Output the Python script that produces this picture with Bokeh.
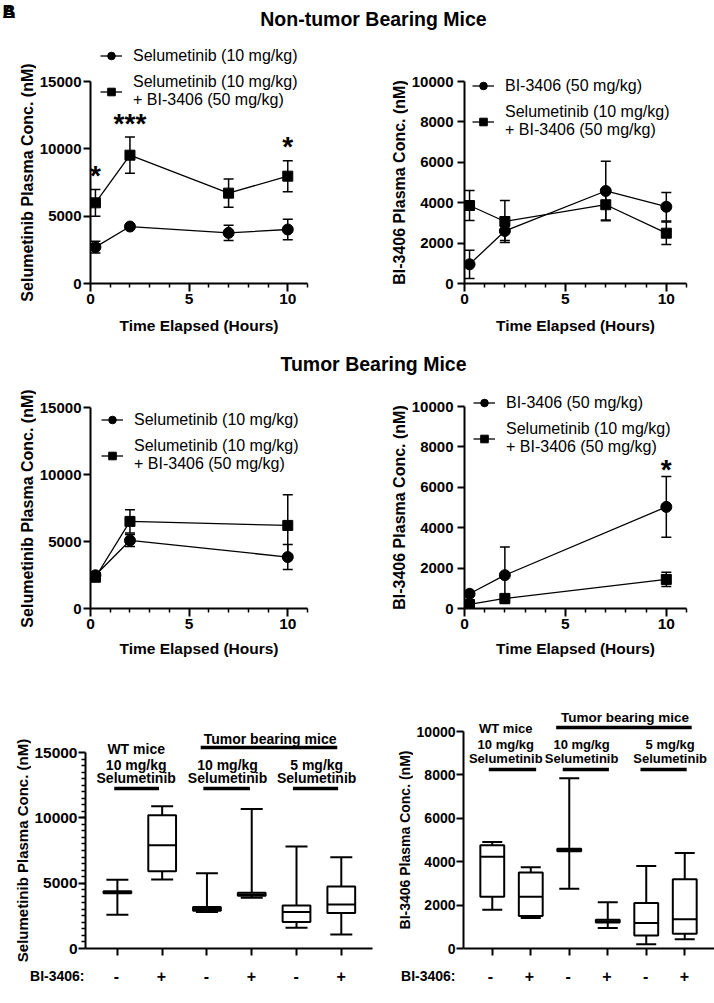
import numpy as np
from bokeh.plotting import figure
from bokeh.layouts import column, row
from bokeh.models import (Range1d, FixedTicker, Legend, LegendItem, Label,
                          Whisker, TeeHead, ColumnDataSource)
from bokeh.embed import file_html
from bokeh.resources import INLINE

FONT = "Liberation Sans"

# ---------------- data ----------------
# Non-tumor bearing mice (mean, sd), nM
nt_hours = [0.25, 2, 7, 10]
nt_sel_mean = [2700, 4230, 3760, 4010]
nt_sel_sd = [430, 150, 570, 770]
nt_combo_sel_mean = [5990, 9530, 6710, 7970]
nt_combo_sel_sd = [990, 1340, 1050, 1150]
nt_sel_stars = ["*", "***", "", "*"]

nt_bi_mean = [950, 2600, 4580, 3800]
nt_bi_sd = [700, 470, 1470, 700]
nt_combo_bi_mean = [3860, 3070, 3900, 2490]
nt_combo_bi_sd = [740, 1040, 760, 560]

# Tumor bearing mice
tb_hours = [0.25, 2, 10]
tb_sel_mean = [2480, 5080, 3840]
tb_sel_sd = [150, 450, 930]
tb_combo_sel_mean = [2330, 6500, 6200]
tb_combo_sel_sd = [150, 870, 2280]

tb_bi_mean = [730, 1650, 5030]
tb_bi_sd = [100, 1400, 1500]
tb_combo_bi_mean = [200, 500, 1440]
tb_combo_bi_sd = [60, 120, 350]
tb_bi_stars = ["", "", "*"]

# Box plots (min, q1, median, q3, max), nM
box_pos = [1, 2, 3, 4, 5, 6]
box_sign = ["-", "+", "-", "+", "-", "+"]
sel_min = [2590, 5290, 2800, 3890, 1580, 1070]
sel_q1 = [4220, 5920, 2880, 4040, 2030, 2720]
sel_med = [4300, 7910, 3030, 4140, 2800, 3360]
sel_q3 = [4390, 10190, 3170, 4270, 3300, 4750]
sel_max = [5260, 10880, 5750, 10680, 7800, 6990]

bi_min = [1780, 1400, 2750, 950, 200, 430]
bi_q1 = [2380, 1500, 4480, 1200, 600, 680]
bi_med = [4230, 2380, 4540, 1260, 1180, 1350]
bi_q3 = [4760, 3500, 4600, 1320, 2100, 3190]
bi_max = [4910, 3740, 7850, 2130, 3800, 4400]

group_titles = [["WT mice", "10 mg/kg", "Selumetinib"],
                ["10 mg/kg", "Selumetinib"],
                ["5 mg/kg", "Selumetinib"]]
tumor_title = "Tumor bearing mice"
treat_label = "BI-3406:"

LEG_SEL = "Selumetinib (10 mg/kg)"
LEG_BI = "BI-3406 (50 mg/kg)"
LEG_COMBO = "Selumetinib (10 mg/kg)\n+ BI-3406 (50 mg/kg)"
YLAB_SEL = "Selumetinib Plasma Conc. (nM)"
YLAB_BI = "BI-3406 Plasma Conc. (nM)"
XLAB = "Time Elapsed (Hours)"


# ---------------- helpers ----------------
def make_fig(w, h, xr, yr, bl, br, bt, bb):
    p = figure(width=w, height=h, x_range=xr, y_range=yr,
               min_border_left=bl, min_border_right=br, min_border_top=bt,
               min_border_bottom=bb, toolbar_location=None,
               output_backend="svg", outline_line_color=None)
    p.grid.visible = False
    return p


def blank_fig(w, h):
    p = figure(width=w, height=h, x_range=Range1d(0, w), y_range=Range1d(0, h),
               x_axis_type=None, y_axis_type=None, min_border=0,
               outline_line_color=None, toolbar_location=None,
               output_backend="svg")
    p.grid.visible = False
    return p


def text(p, x, y, t, size, bold=True, align="center"):
    p.add_layout(Label(x=x, y=y, text=t, text_align=align,
                       text_baseline="middle", text_font=FONT,
                       text_font_style="bold" if bold else "normal",
                       text_font_size=size, text_color="black"))


def style_axis(ax, ticks, minor, label, tick_size, label_size,
               tick_out, label_standoff, axis_standoff, bounds=None,
               minor_out=4):
    ax.ticker = FixedTicker(ticks=ticks, minor_ticks=minor)
    if bounds is not None:
        ax.bounds = bounds
    ax.axis_line_width = 2
    ax.axis_line_color = "black"
    ax.major_tick_line_width = 2
    ax.major_tick_line_color = "black"
    ax.major_tick_out = tick_out
    ax.major_tick_in = 0
    ax.minor_tick_line_width = 1.5
    ax.minor_tick_line_color = "black"
    ax.minor_tick_out = minor_out if minor else 0
    ax.minor_tick_in = 0
    ax.major_label_text_font = FONT
    ax.major_label_text_font_style = "bold"
    ax.major_label_text_font_size = tick_size
    ax.major_label_text_color = "black"
    ax.major_label_standoff = label_standoff
    ax.axis_label = label
    ax.axis_label_text_font = FONT
    ax.axis_label_text_font_style = "bold"
    ax.axis_label_text_font_size = label_size
    ax.axis_label_text_color = "black"
    ax.axis_label_standoff = axis_standoff


def title_axis(ax, label, size, standoff, orientation=None):
    """An axis that only shows its title (no line, no ticks)."""
    ax.ticker = FixedTicker(ticks=[], minor_ticks=[])
    ax.axis_line_color = None
    ax.major_tick_line_color = None
    ax.minor_tick_line_color = None
    ax.major_tick_out = 0
    ax.minor_tick_out = 0
    ax.major_label_standoff = 0
    ax.axis_label = label
    ax.axis_label_text_font = FONT
    ax.axis_label_text_font_style = "bold"
    ax.axis_label_text_font_size = size
    ax.axis_label_text_color = "black"
    ax.axis_label_standoff = standoff
    if orientation:
        ax.axis_label_orientation = orientation


def series(p, x, mean, sd, marker, size):
    m = np.array(mean, dtype=float)
    s = np.array(sd, dtype=float)
    src = ColumnDataSource(dict(x=x, y=m, lo=m - s, hi=m + s))
    p.add_layout(Whisker(base="x", upper="hi", lower="lo", source=src,
                         line_color="black", line_width=1.5,
                         upper_head=TeeHead(size=10, line_width=1.5),
                         lower_head=TeeHead(size=10, line_width=1.5)))
    ln = p.line("x", "y", source=src, line_color="black", line_width=1.3)
    sc = p.scatter("x", "y", source=src, marker=marker, size=size,
                   fill_color="black", line_color="black")
    return [ln, sc]


def legend(p, items, loc):
    lg = Legend(items=[LegendItem(label=t, renderers=r) for t, r in items],
                location=loc, orientation="vertical",
                border_line_color=None, background_fill_alpha=0,
                padding=0, margin=0, spacing=8,
                glyph_width=22, glyph_height=19, label_height=19,
                label_standoff=11, label_text_font=FONT,
                label_text_font_size="16px", label_text_color="black",
                label_text_line_height=1.2)
    p.add_layout(lg, "center")


def stars(p, x, mean, sd, marks, yoff):
    for xi, m, s, t in zip(x, mean, sd, marks):
        if t:
            p.add_layout(Label(x=xi, y=m + s, y_offset=yoff, text=t,
                               text_align="center", text_baseline="middle",
                               text_font=FONT, text_font_style="bold",
                               text_font_size="28px", text_color="black"))


def ytitle_fig(w, h, top_px, bottom_px, label, size="16px"):
    """Narrow figure whose (1 px wide) frame spans exactly the y axis,
    so that its axis title is centred on the plotted axis."""
    p = figure(width=w, height=h, x_range=Range1d(0, 1), y_range=Range1d(0, 1),
               x_axis_type=None, min_border_left=w - 1, min_border_right=0,
               min_border_top=top_px, min_border_bottom=h - bottom_px,
               outline_line_color=None, toolbar_location=None,
               output_backend="svg")
    p.grid.visible = False
    title_axis(p.yaxis[0], label, size, 0)
    return column(p)


def time_panel(w, h, bl, br, bt, bb, y_top, axis_h, yticks, x_standoff,
               tick_standoff):
    frame_h = h - bt - bb
    y_end = y_top * frame_h / axis_h
    p = make_fig(w, h, Range1d(0, 11), Range1d(0, y_end), bl, br, bt, bb)
    style_axis(p.xaxis[0], [0, 5, 10], [1, 2, 3, 4, 6, 7, 8, 9, 11],
               XLAB, "15.5px", "15.5px", 8, 2, x_standoff)
    style_axis(p.yaxis[0], yticks, [], None, "15px", "16px", 7,
               tick_standoff, 0, bounds=(0, y_top))
    return p


h1 = blank_fig(714, 40)
text(h1, 373, 22, "Non-tumor Bearing Mice", "19.5px")
for t in ["A", "B"]:
    text(h1, 2, 29, t, "18px", align="left")
h2 = blank_fig(714, 40)
text(h2, 373, 17, "Tumor Bearing Mice", "19.5px")

# ---------------- top row (page y 40..340) ----------------
tl_side = ytitle_fig(36, 300, 41, 243, YLAB_SEL)
tl = time_panel(324, 300, 51, 53, 2, 57, 15000, 202,
                [0, 5000, 10000, 15000], 10, 2)
r1 = series(tl, nt_hours, nt_sel_mean, nt_sel_sd, "circle", 11)
r2 = series(tl, nt_hours, nt_combo_sel_mean, nt_combo_sel_sd, "square", 10)
legend(tl, [(LEG_SEL, r1), (LEG_COMBO, r2)], (10, 174))
stars(tl, nt_hours, nt_combo_sel_mean, nt_combo_sel_sd, nt_sel_stars, 14)

tr_side = ytitle_fig(48, 300, 41, 243, YLAB_BI)
tr = time_panel(306, 300, 56, 28, 2, 57, 10000, 202,
                [0, 2000, 4000, 6000, 8000, 10000], 10, 4)
r1 = series(tr, nt_hours, nt_bi_mean, nt_bi_sd, "circle", 11)
r2 = series(tr, nt_hours, nt_combo_bi_mean, nt_combo_bi_sd, "square", 10)
legend(tr, [(LEG_BI, r1), (LEG_COMBO, r2)], (8, 144))

# ---------------- middle row (page y 380..665) ----------------
ml_side = ytitle_fig(36, 285, 27, 229, YLAB_SEL)
ml = time_panel(324, 285, 51, 53, 6, 57, 15000, 201,
                [0, 5000, 10000, 15000], 8, 2)
r1 = series(ml, tb_hours, tb_sel_mean, tb_sel_sd, "circle", 11)
r2 = series(ml, tb_hours, tb_combo_sel_mean, tb_combo_sel_sd, "square", 10)
legend(ml, [(LEG_SEL, r1), (LEG_COMBO, r2)], (11, 135))

mr_side = ytitle_fig(48, 285, 26, 228, YLAB_BI)
mr = time_panel(306, 285, 56, 28, 6, 57, 10000, 202,
                [0, 2000, 4000, 6000, 8000, 10000], 8, 4)
r1 = series(mr, tb_hours, tb_bi_mean, tb_bi_sd, "circle", 11)
r2 = series(mr, tb_hours, tb_combo_bi_mean, tb_combo_bi_sd, "square", 10)
legend(mr, [(LEG_BI, r1), (LEG_COMBO, r2)], (9, 152))
stars(mr, tb_hours, tb_bi_mean, tb_bi_sd, tb_bi_stars, 7)


# ---------------- bottom row (box plots, page y 665..998) ----------------
def box_panel(side_w, w, bl, br, xr, y_top, axis_h, ylabel, ylab_size,
              yticks, yminor, tick_size, mn, q1, med, q3, mx, cap_px, ann,
              font_grp, font_tum, treat_size, treat_standoff):
    bt, frame_h, bb = 35, 248, 16          # frame spans page y 700..948
    h = bt + frame_h + bb
    xr = Range1d(*xr)
    y_end = y_top * frame_h / axis_h
    p = make_fig(w - side_w, h, xr, Range1d(0, y_end), bl - side_w, br, bt, bb)
    style_axis(p.xaxis[0], [], box_pos, None, "15px", "15px", 7, 0, 0,
               minor_out=7)
    p.xaxis[0].minor_tick_line_width = 2
    style_axis(p.yaxis[0], yticks, yminor, None, tick_size, "15px", 7, 1, 0,
               bounds=(0, y_top))
    side = ytitle_fig(side_w, h, bt + frame_h - axis_h, bt + frame_h, ylabel,
                      ylab_size)

    bw = 0.62
    x = np.array(box_pos, dtype=float)
    src = ColumnDataSource(dict(x=x, mn=mn, q1=q1, med=med, q3=q3, mx=mx,
                                xl=x - bw / 2, xr=x + bw / 2))
    p.add_layout(Whisker(base="x", upper="mx", lower="q3", source=src,
                         line_color="black", line_width=2, lower_head=None,
                         upper_head=TeeHead(size=cap_px, line_width=2)))
    p.add_layout(Whisker(base="x", upper="q1", lower="mn", source=src,
                         line_color="black", line_width=2, upper_head=None,
                         lower_head=TeeHead(size=cap_px, line_width=2)))
    p.vbar(x="x", bottom="q1", top="q3", width=bw, source=src,
           fill_color="white", line_color="black", line_width=2)
    p.segment(x0="xl", y0="med", x1="xr", y1="med", source=src,
              line_color="black", line_width=2)

    # group annotations; offsets in px relative to the top of the y axis
    px = y_top / axis_h
    bar_y = y_top + ann["bar"] * px
    for (cx, x0, x1), lines in zip(ann["groups"], group_titles):
        p.segment(x0=[x0], y0=[bar_y], x1=[x1], y1=[bar_y],
                  line_color="black", line_width=3.5)
        offs = ann["lines"][-len(lines):]
        for t, o in zip(lines, offs):
            text(p, cx, y_top + o * px, t, font_grp)
    tx, t0, t1 = ann["tumor"]
    ty = y_top + ann["tumor_bar"] * px
    p.segment(x0=[t0], y0=[ty], x1=[t1], y1=[ty], line_color="black",
              line_width=3.5)
    text(p, tx, y_top + ann["tumor_text"] * px, tumor_title, font_tum)

    # treatment row under the axis:  BI-3406:  -  +  -  +  -  +
    strip = figure(width=w, height=34, x_range=xr, y_range=Range1d(0, 1),
                   x_axis_type=None, min_border_left=bl, min_border_right=br,
                   min_border_top=1, min_border_bottom=13,
                   outline_line_color=None, toolbar_location=None,
                   output_backend="svg")
    strip.grid.visible = False
    title_axis(strip.yaxis[0], treat_label, treat_size, treat_standoff,
               "horizontal")
    for xi, sign in zip(box_pos, box_sign):
        text(strip, xi, 0.5, sign, "16px")
    return column(row(side, p), strip)


bl_ann = dict(bar=-36, lines=[4, -12, -25], tumor_bar=5, tumor_text=14,
              groups=[(1.42, 0.93, 1.93), (3.46, 2.92, 3.96), (5.45, 4.92, 5.93)],
              tumor=(4.41, 2.86, 5.91))
bl = box_panel(31, 380, 84, 8, (0.288, 6.697), 15000, 196, YLAB_SEL, "15px",
               [0, 5000, 10000, 15000], list(range(500, 15000, 500)),
               "15.5px", sel_min, sel_q1, sel_med, sel_q3, sel_max, 22,
               bl_ann, "14px", "14px", "14px", 0)

br_ann = dict(bar=-38, lines=[3, -13, -27], tumor_bar=4, tumor_text=14,
              groups=[(1.35, 0.91, 2.14), (3.32, 2.83, 4.03), (5.62, 4.85, 6.05)],
              tumor=(4.45, 2.66, 6.18))
br = box_panel(33, 334, 81, 0, (0.2526, 6.773), 10000, 217, YLAB_BI, "14px",
               [0, 2000, 4000, 6000, 8000, 10000], [], "14px",
               bi_min, bi_q1, bi_med, bi_q3, bi_max, 20, br_ann,
               "13px", "13.5px", "14px", 6)

layout = column(h1, row(tl_side, tl, tr_side, tr), h2,
                row(ml_side, ml, mr_side, mr), row(bl, br))
open("out.html", "w").write(file_html(layout, INLINE))
